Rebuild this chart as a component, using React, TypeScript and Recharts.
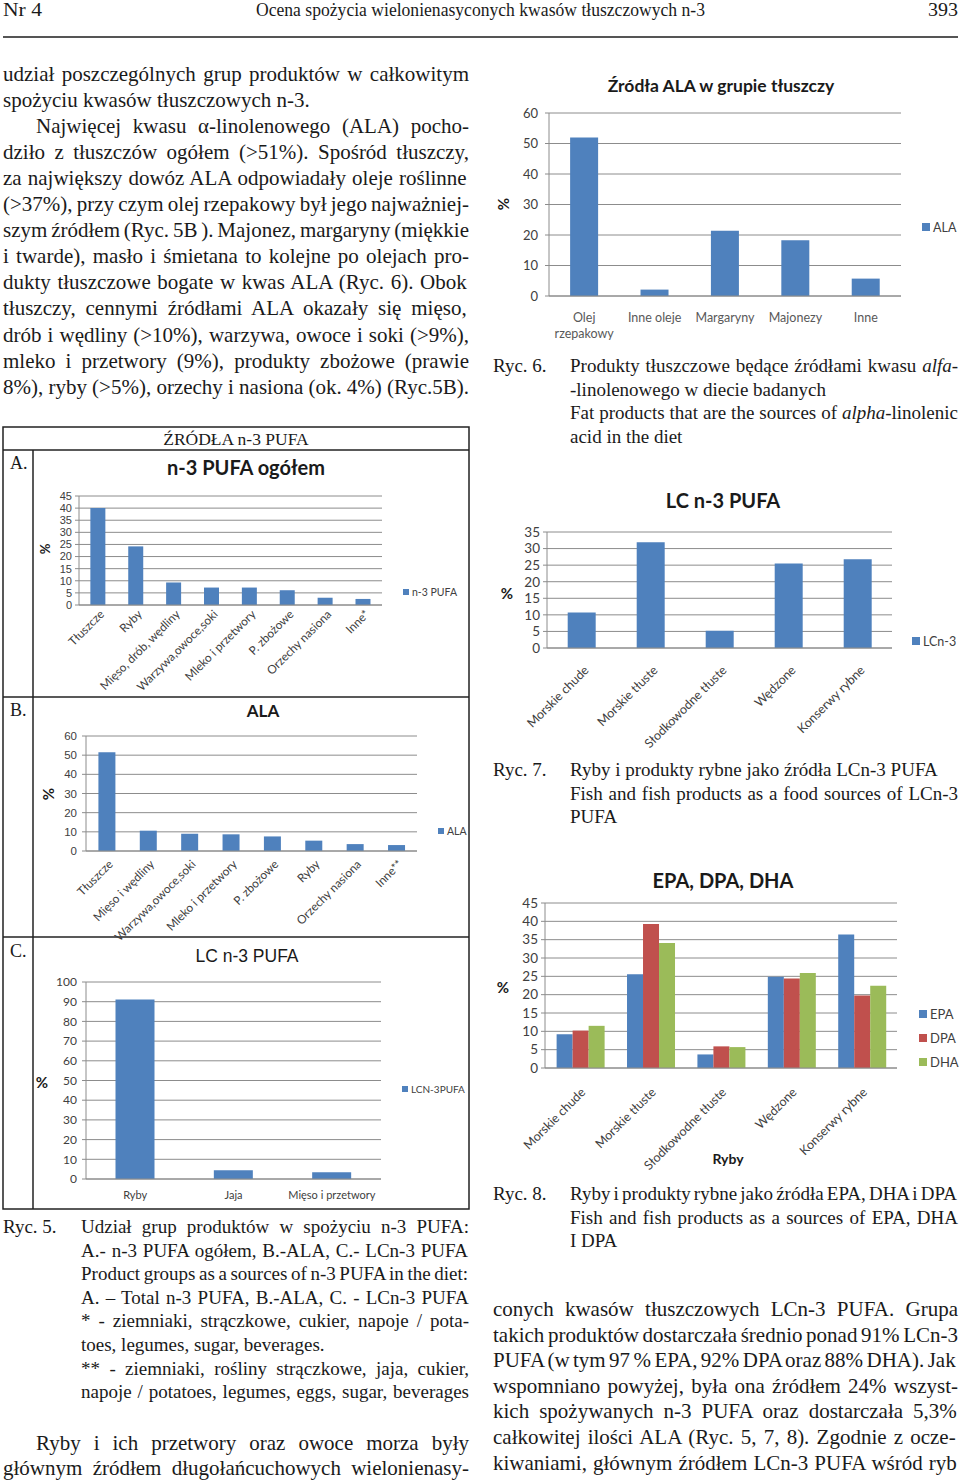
import React from 'react'
import { BarChart, Bar, XAxis, YAxis, CartesianGrid } from 'recharts'

const BLUE = '#4F81BD'
const RED = '#C0504D'
const GREEN = '#9BBB59'
const GRID = '#8c8c8c'
const INK = '#1a1a1a'
const TICK = '#404040'
const SANS = 'Lato, "Open Sans", sans-serif'
const ARIAL = '"Liberation Sans", Arial, sans-serif'
const SERIF = '"Liberation Serif", "Times New Roman", serif'

// Ryc. 6 – ALA w grupie tłuszczy
const fatCategories = ['Olej rzepakowy', 'Inne oleje', 'Margaryny', 'Majonezy', 'Inne']
const fatAla = [52, 2.1, 21.4, 18.3, 5.7]

// Ryc. 5A – n-3 PUFA ogółem
const totalCategories = ['Tłuszcze', 'Ryby', 'Mięso, drób, wędliny', 'Warzywa,owoce,soki', 'Mleko i przetwory', 'P. zbożowe', 'Orzechy nasiona', 'Inne*']
const totalN3 = [40, 24.2, 9.3, 7.2, 7.2, 6.1, 3, 2.5]

// Ryc. 5B – ALA
const alaCategories = ['Tłuszcze', 'Mięso i wędliny', 'Warzywa,owoce,soki', 'Mleko i przetwory', 'P. zbożowe', 'Ryby', 'Orzechy nasiona', 'Inne**']
const alaValues = [51.5, 10.6, 9.0, 8.7, 7.6, 5.4, 3.6, 3.1]

// Ryc. 5C – LC n-3 PUFA
const lcCategories = ['Ryby', 'Jaja', 'Mięso i przetwory']
const lcValues = [91.1, 4.5, 3.4]

// Ryc. 7 / 8 – ryby
const fishCategories = ['Morskie chude', 'Morskie tłuste', 'Słodkowodne tłuste', 'Wędzone', 'Konserwy rybne']
const fishLc = [10.7, 31.9, 5.2, 25.5, 26.8]
const fishEpa = [9.2, 25.6, 3.7, 24.9, 36.4]
const fishDpa = [10.2, 39.3, 5.9, 24.4, 19.8]
const fishDha = [11.5, 34.1, 5.7, 25.9, 22.4]

const ticks60 = [0, 10, 20, 30, 40, 50, 60]
const ticks45 = [0, 5, 10, 15, 20, 25, 30, 35, 40, 45]
const ticks100 = [0, 10, 20, 30, 40, 50, 60, 70, 80, 90, 100]
const ticks35 = [0, 5, 10, 15, 20, 25, 30, 35]

const fatData = fatCategories.map((name, i) => ({ name, ALA: fatAla[i] }))
const totalData = totalCategories.map((name, i) => ({ name, n3: totalN3[i] }))
const alaData = alaCategories.map((name, i) => ({ name, ALA: alaValues[i] }))
const lcData = lcCategories.map((name, i) => ({ name, lc: lcValues[i] }))
const fishLcData = fishCategories.map((name, i) => ({ name, lc: fishLc[i] }))
const fishFaData = fishCategories.map((name, i) => ({ name, EPA: fishEpa[i], DPA: fishDpa[i], DHA: fishDha[i] }))

// ---------- text lines of the page ----------
type Ln = [string, boolean, number?]

const leftTop: Ln[] = [
  ['udział poszczególnych grup produktów w całkowitym', true],
  ['spożyciu kwasów tłuszczowych n-3.', false],
  ['Najwięcej kwasu α-linolenowego (ALA) pocho-', true, 33],
  ['dziło z tłuszczów ogółem (>51%). Spośród tłuszczy,', true],
  ['za największy dowóz ALA odpowiadały oleje roślinne', true],
  ['(>37%), przy czym olej rzepakowy był jego najważniej-', true],
  ['szym źródłem (Ryc. 5B ). Majonez, margaryny (miękkie', true],
  ['i twarde), masło i śmietana to kolejne po olejach pro-', true],
  ['dukty tłuszczowe bogate w kwas ALA (Ryc. 6). Obok', true],
  ['tłuszczy, cennymi źródłami ALA okazały się mięso,', true],
  ['drób i wędliny (>10%), warzywa, owoce i soki (>9%),', true],
  ['mleko i przetwory (9%), produkty zbożowe (prawie', true],
  ['8%), ryby (>5%), orzechy i nasiona (ok. 4%) (Ryc.5B).', true],
]
const cap6: Ln[] = [
  ['Produkty tłuszczowe będące źródłami kwasu _alfa_-', true],
  ['-linolenowego w diecie badanych', false],
  ['Fat products that are the sources of _alpha_-linolenic', true],
  ['acid in the diet', false],
]
const cap7: Ln[] = [
  ['Ryby i produkty rybne jako źródła LCn-3 PUFA', false],
  ['Fish and fish products as a food sources of LCn-3', true],
  ['PUFA', false],
]
const cap8: Ln[] = [
  ['Ryby i produkty rybne jako źródła EPA, DHA i DPA', true],
  ['Fish and fish products as a sources of EPA, DHA', true],
  ['I DPA', false],
]
const cap5: Ln[] = [
  ['Udział grup produktów w spożyciu n-3 PUFA:', true],
  ['A.- n-3 PUFA ogółem, B.-ALA, C.- LCn-3 PUFA', true],
  ['Product groups as a sources of n-3 PUFA in the diet:', true],
  ['A. – Total n-3 PUFA, B.-ALA, C. - LCn-3 PUFA', true],
  ['* - ziemniaki, strączkowe, cukier, napoje / pota-', true],
  ['toes, legumes, sugar, beverages.', false],
  ['** - ziemniaki, rośliny strączkowe, jaja, cukier,', true],
  ['napoje / potatoes, legumes, eggs, sugar, beverages', true],
]
const leftBottom: Ln[] = [
  ['Ryby i ich przetwory oraz owoce morza były', true, 33],
  ['głównym źródłem długołańcuchowych wielonienasy-', true],
]
const rightBottom: Ln[] = [
  ['conych kwasów tłuszczowych LCn-3 PUFA. Grupa', true],
  ['takich produktów dostarczała średnio ponad 91% LCn-3', true],
  ['PUFA (w tym 97 % EPA, 92% DPA oraz 88% DHA). Jak', true],
  ['wspomniano powyżej, była ona źródłem 24% wszyst-', true],
  ['kich spożywanych n-3 PUFA oraz dostarczała 5,3%', true],
  ['całkowitej ilości ALA (Ryc. 5, 7, 8). Zgodnie z ocze-', true],
  ['kiwaniami, głównym źródłem LCn-3 PUFA wśród ryb', true],
]

let ctx: CanvasRenderingContext2D | null = null
function measure(segs: { t: string; it: boolean }[], size: number) {
  if (!ctx) ctx = document.createElement('canvas').getContext('2d')
  if (!ctx) return 0
  let w = 0
  for (const g of segs) {
    ctx.font = `${g.it ? 'italic ' : ''}${size}px "Liberation Serif"`
    w += ctx.measureText(g.t).width
  }
  return w
}

function TextBlock({ lines, x, y, w, lh, size }: { lines: Ln[]; x: number; y: number; w: number; lh: number; size: number }) {
  return (
    <g>
      {lines.map(([s, just, ind = 0], i) => {
        const segs = s.split('_').map((t, k) => ({ t, it: k % 2 === 1 })).filter((g) => g.t)
        let ws = 0
        if (just) {
          const n = (s.match(/ /g) || []).length
          if (n) ws = (w - ind - measure(segs, size)) / n
        }
        return (
          <text key={i} x={x + ind} y={y + i * lh} fontSize={size} fontFamily={SERIF} fill={INK} wordSpacing={ws}>
            {segs.map((g, k) => (
              <tspan key={k} fontStyle={g.it ? 'italic' : undefined}>{g.t}</tspan>
            ))}
          </text>
        )
      })}
    </g>
  )
}

function LegendItem({ x, y, color, label, size, box }: { x: number; y: number; color: string; label: string; size: number; box: number }) {
  return (
    <g>
      <rect x={x} y={y - box / 2} width={box} height={box} fill={color} />
      <text x={x + box + 3} y={y} dominantBaseline="central" fontSize={size} fill={TICK} fontFamily={SANS}>{label}</text>
    </g>
  )
}

function Pct({ x, y, size, rotate }: { x: number; y: number; size: number; rotate?: boolean }) {
  return (
    <text x={x} y={y} textAnchor="middle" dominantBaseline="central" fontSize={size} fontWeight="bold" fontFamily={SANS} fill={INK}
      transform={rotate ? `rotate(-90 ${x} ${y})` : undefined}>%</text>
  )
}

function Title({ x, y, size, text, bold = true, family = SANS }: { x: number; y: number; size: number; text: string; bold?: boolean; family?: string }) {
  return (
    <text x={x} y={y} textAnchor="middle" dominantBaseline="central" fontSize={size} fontWeight={bold ? 'bold' : 'normal'} fontFamily={family} fill={INK}>{text}</text>
  )
}

// ---------- ticks ----------
function rotTick(fs: number, dx: number, dy: number) {
  return (p: any) => {
    const tx = p.x + dx
    const ty = p.y + dy
    return (
      <text x={tx} y={ty} transform={`rotate(-45 ${tx} ${ty})`} textAnchor="end" fontSize={fs} fill={TICK} fontFamily={SANS}>
        {p.payload.value}
      </text>
    )
  }
}

function flatTick(fs: number, dy: number, fill: string, wrapAt = 99) {
  return (p: any) => {
    const v: string = p.payload.value
    const parts = v.length > wrapAt ? v.split(' ') : [v]
    return (
      <text x={p.x} y={p.y + dy} textAnchor="middle" fontSize={fs} fill={fill} fontFamily={SANS}>
        {parts.map((w, i) => (
          <tspan key={i} x={p.x} dy={i ? fs * 1.3 : 0}>{w}</tspan>
        ))}
      </text>
    )
  }
}

type Plot = { l: number; t: number; r: number; b: number }
type Series = { key: string; color: string }

function Chart(props: {
  plot: Plot; data: any[]; bars: Series[]; ticks: number[]; yW: number; xH: number
  yFont: number; yFamily?: string; yGap: number; xTick: any; gap?: string
}) {
  const { plot, data, bars, ticks, yW, xH, yFont, yFamily = SANS, yGap, xTick, gap = '30%' } = props
  const mt = 8
  const left = plot.l - yW
  const top = plot.t - mt
  const width = plot.r - left + 4
  const height = plot.b - top + xH
  return (
    <div style={{ position: 'absolute', left, top }}>
      <BarChart width={width} height={height} data={data} margin={{ top: mt, right: 4, bottom: 0, left: 0 }} barCategoryGap={gap} barGap={0}>
        <CartesianGrid vertical={false} stroke={GRID} />
        <XAxis dataKey="name" interval={0} tickLine={false} tickSize={0} tickMargin={0} axisLine={{ stroke: GRID }} height={xH} tick={xTick} />
        <YAxis width={yW} domain={[0, ticks[ticks.length - 1]]} ticks={ticks} interval={0} tickSize={4} tickMargin={yGap - 4}
          axisLine={{ stroke: GRID }} tickLine={{ stroke: GRID }} tick={{ fontSize: yFont, fill: TICK, fontFamily: yFamily }} />
        {bars.map((b) => (
          <Bar key={b.key} dataKey={b.key} fill={b.color} isAnimationActive={false} />
        ))}
      </BarChart>
    </div>
  )
}

export default function App() {
  return (
    <div style={{ position: 'absolute', left: 0, top: 0, width: 960, height: 1483, background: '#fff', overflow: 'hidden' }}>
      <svg width={960} height={1483} style={{ position: 'absolute', left: 0, top: 0 }}>
        {/* header */}
        <text x={3} y={16} fontSize={19} fontFamily={SERIF} fill={INK} textLength={39} lengthAdjust="spacingAndGlyphs">Nr 4</text>
        <text x={256} y={16} fontSize={19} fontFamily={SERIF} fill={INK} textLength={449} lengthAdjust="spacingAndGlyphs">Ocena spożycia wielonienasyconych kwasów tłuszczowych n-3</text>
        <text x={928} y={16} fontSize={19} fontFamily={SERIF} fill={INK} textLength={30} lengthAdjust="spacingAndGlyphs">393</text>
        <line x1={3} y1={37} x2={958} y2={37} stroke="#555" strokeWidth={2} />

        <TextBlock lines={leftTop} x={3} y={81} w={466} lh={26.05} size={21} />

        <text x={493} y={372} fontSize={19} fontFamily={SERIF} fill={INK}>Ryc. 6.</text>
        <TextBlock lines={cap6} x={570} y={372} w={388} lh={23.6} size={19} />
        <text x={493} y={776} fontSize={19} fontFamily={SERIF} fill={INK}>Ryc. 7.</text>
        <TextBlock lines={cap7} x={570} y={776} w={388} lh={23.6} size={19} />
        <text x={493} y={1200} fontSize={19} fontFamily={SERIF} fill={INK}>Ryc. 8.</text>
        <TextBlock lines={cap8} x={570} y={1200} w={388} lh={23.6} size={19} />
        <text x={3} y={1233} fontSize={19} fontFamily={SERIF} fill={INK}>Ryc. 5.</text>
        <TextBlock lines={cap5} x={81} y={1233} w={388} lh={23.6} size={19} />

        <TextBlock lines={leftBottom} x={3} y={1450} w={466} lh={25} size={21} />
        <TextBlock lines={rightBottom} x={493} y={1316} w={465} lh={25.6} size={21} />

        {/* Ryc. 5 frame */}
        <rect x={3} y={427} width={466} height={782} fill="none" stroke="#222" strokeWidth={1.5} />
        <line x1={3} y1={450} x2={469} y2={450} stroke="#222" strokeWidth={1.5} />
        <line x1={33} y1={450} x2={33} y2={1209} stroke="#222" strokeWidth={1.5} />
        <line x1={3} y1={697} x2={469} y2={697} stroke="#222" strokeWidth={1.5} />
        <line x1={3} y1={937} x2={469} y2={937} stroke="#222" strokeWidth={1.5} />
        <text x={236} y={445} textAnchor="middle" fontSize={17.5} fontFamily={SERIF} fill={INK}>ŹRÓDŁA n-3 PUFA</text>
        <text x={10} y={469} fontSize={18} fontFamily={SERIF} fill={INK}>A.</text>
        <text x={10} y={716} fontSize={18} fontFamily={SERIF} fill={INK}>B.</text>
        <text x={10} y={957} fontSize={18} fontFamily={SERIF} fill={INK}>C.</text>

        {/* chart titles, legends, axis titles */}
        <Title x={721} y={85} size={17.5} text="Źródła ALA w grupie tłuszczy" />
        <Pct x={503} y={204} size={15} rotate />
        <LegendItem x={922} y={227} color={BLUE} label="ALA" size={12.5} box={8} />

        <Title x={246} y={467} size={20} text="n-3 PUFA ogółem" />
        <Pct x={45} y={549} size={13} rotate />
        <LegendItem x={403} y={592} color={BLUE} label="n-3 PUFA" size={10.5} box={6} />

        <Title x={263} y={710} size={17} text="ALA" />
        <Pct x={48} y={794} size={15} rotate />
        <LegendItem x={438} y={831} color={BLUE} label="ALA" size={10.5} box={6} />

        <Title x={247} y={956} size={17.5} text="LC n-3 PUFA" bold={false} family={ARIAL} />
        <Pct x={42} y={1082} size={15} />
        <LegendItem x={402} y={1089} color={BLUE} label="LCN-3PUFA" size={10} box={6} />

        <Title x={723} y={500} size={20} text="LC n-3 PUFA" />
        <Pct x={507} y={593} size={15} />
        <LegendItem x={912} y={641} color={BLUE} label="LCn-3" size={12.5} box={8} />

        <Title x={723} y={880} size={20} text="EPA, DPA, DHA" />
        <Pct x={503} y={987} size={15} />
        <LegendItem x={919} y={1014} color={BLUE} label="EPA" size={13} box={8} />
        <LegendItem x={919} y={1038} color={RED} label="DPA" size={13} box={8} />
        <LegendItem x={919} y={1062} color={GREEN} label="DHA" size={13} box={8} />
        <Title x={728} y={1158} size={14} text="Ryby" />
      </svg>

      <Chart plot={{ l: 549, t: 113, r: 901, b: 296 }} data={fatData} bars={[{ key: 'ALA', color: BLUE }]} ticks={ticks60}
        yW={40} xH={50} yFont={13} yGap={11} xTick={flatTick(12.5, 26, '#595959', 10)} />

      <Chart plot={{ l: 79, t: 496, r: 382, b: 605 }} data={totalData} bars={[{ key: 'n3', color: BLUE }]} ticks={ticks45}
        yW={30} xH={90} yFont={11} yFamily={ARIAL} yGap={7} xTick={rotTick(11.8, 7, 10)} />

      <Chart plot={{ l: 86, t: 736, r: 417, b: 851 }} data={alaData} bars={[{ key: 'ALA', color: BLUE }]} ticks={ticks60}
        yW={35} xH={92} yFont={11.5} yFamily={ARIAL} yGap={9} xTick={rotTick(11.8, 7, 14)} />

      <Chart plot={{ l: 86, t: 982, r: 381, b: 1179 }} data={lcData} bars={[{ key: 'lc', color: BLUE }]} ticks={ticks100}
        yW={35} xH={28} yFont={12} yGap={9} xTick={flatTick(11, 20, TICK)} />

      <Chart plot={{ l: 547, t: 532, r: 892, b: 648 }} data={fishLcData} bars={[{ key: 'lc', color: BLUE }]} ticks={ticks35}
        yW={40} xH={105} yFont={13.5} yGap={7} xTick={rotTick(12.5, 8, 23)} />

      <Chart plot={{ l: 545, t: 903, r: 897, b: 1068 }} data={fishFaData}
        bars={[{ key: 'EPA', color: BLUE }, { key: 'DPA', color: RED }, { key: 'DHA', color: GREEN }]} ticks={ticks45}
        yW={40} xH={108} yFont={13.5} yGap={7} xTick={rotTick(12.5, 6, 25)} gap="16.5%" />
    </div>
  )
}
